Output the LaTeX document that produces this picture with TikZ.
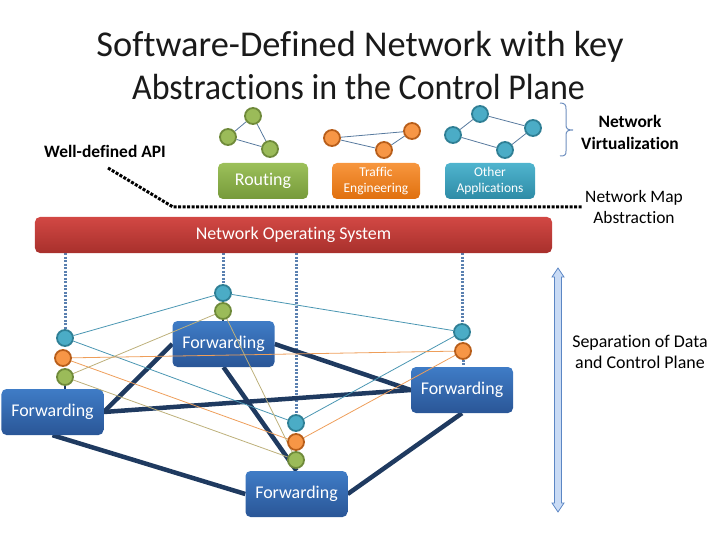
\documentclass[tikz,border=0pt]{standalone}
\usepackage{fontspec}
\setmainfont[Ligatures={NoCommon}]{Carlito}
\definecolor{titlec}{HTML}{1A1A1A}
\definecolor{fwdtop}{HTML}{3F7CC6}
\definecolor{fwdbot}{HTML}{2A5697}
\definecolor{nostop}{HTML}{D24844}
\definecolor{nosbot}{HTML}{A8302C}
\definecolor{rtop}{HTML}{9CC05A}
\definecolor{rbot}{HTML}{769A3A}
\definecolor{ttop}{HTML}{F7963E}
\definecolor{tbot}{HTML}{E0700E}
\definecolor{otop}{HTML}{4FB4CE}
\definecolor{obot}{HTML}{2E8BA6}
\definecolor{blueF}{HTML}{4BACC6}
\definecolor{blueD}{HTML}{2F7F95}
\definecolor{orF}{HTML}{F79646}
\definecolor{orD}{HTML}{B85E1A}
\definecolor{grF}{HTML}{9BBB59}
\definecolor{grD}{HTML}{6F8A3A}
\definecolor{thickc}{HTML}{1F3A60}
\definecolor{dotc}{HTML}{5A80B0}
\definecolor{lnB}{HTML}{4A96B2}
\definecolor{lnO}{HTML}{EE9E5A}
\definecolor{lnG}{HTML}{BDB07A}
\definecolor{clus}{HTML}{587A9E}
\definecolor{bracec}{HTML}{6E8FBF}
\definecolor{arrF}{HTML}{C9DBF5}
\definecolor{arrD}{HTML}{5B86C4}
\pgfdeclarelayer{bg}
\pgfdeclarelayer{boxes}
\pgfdeclarelayer{thin}
\pgfsetlayers{bg,boxes,thin,main}
\begin{document}
\begin{tikzpicture}[x=1bp,y=-1bp,
  box/.style={rounded corners=5bp, text=white, inner sep=0pt, align=center},
  fwd/.style={box, minimum width=102bp, minimum height=46bp, top color=fwdtop, bottom color=fwdbot, font=\fontsize{18}{20}\selectfont},
  app/.style={box, minimum height=36bp},
  nd/.style={circle, line width=1.8bp, minimum size=16bp, inner sep=0pt},
  bn/.style={nd, draw=blueD, fill=blueF},
  on/.style={nd, draw=orD, fill=orF},
  gn/.style={nd, draw=grD, fill=grF},
  clusedge/.style={draw=clus, line width=0.8bp},
  vdot/.style={draw=dotc, line width=3bp, dash pattern=on 2bp off 1.5bp},
  thick link/.style={draw=thickc, line width=4.5bp},
  thinB/.style={draw=lnB, line width=0.8bp},
  thinO/.style={draw=lnO, line width=0.8bp},
  thinG/.style={draw=lnG, line width=0.8bp},
  lbl/.style={align=center, text=black, inner sep=0pt},
]
\useasboundingbox (0,0) rectangle (720,540);

% title
\node[lbl, text=titlec, anchor=base, font=\fontsize{36.5}{43}\selectfont] (title1) at (360,57) {Software-Defined Network with key};
\node[lbl, text=titlec, anchor=base, font=\fontsize{36.5}{43}\selectfont] (title2) at (358.5,100) {\scalebox{0.935}[1]{Abstractions in the Control Plane}};

% labels
\node[lbl, font=\fontsize{17.5}{22}\bfseries] (virt) at (630,132) {Network\\Virtualization};
\node[lbl, font=\fontsize{17.5}{18}\bfseries] (api) at (105,151) {Well-defined API};
\node[lbl, font=\fontsize{17.5}{22}\selectfont] (nma) at (634,207) {Network Map\\Abstraction};
\node[lbl, font=\fontsize{18}{21}\selectfont] (sep) at (640,352) {Separation of Data\\and Control Plane};

% top clusters
\node[gn] (g1) at (253,116) {};
\node[gn] (g2) at (228,137) {};
\node[gn] (g3) at (270,149) {};
\node[on] (o1) at (332,138) {};
\node[on] (o2) at (412,131) {};
\node[on] (o3) at (384,150) {};
\node[bn] (b1) at (480,114) {};
\node[bn] (b2) at (453,135) {};
\node[bn] (b3) at (533,128) {};
\node[bn] (b4) at (505,150) {};
\begin{pgfonlayer}{bg}
\draw[clusedge] (g1) -- (g2) (g1) -- (g3) (g2) -- (g3);
\draw[clusedge] (o1) -- (o2) (o1) -- (o3) (o3) -- (o2);
\draw[clusedge] (b1) -- (b2) (b1) -- (b3) (b2) -- (b4) (b4) -- (b3);
\end{pgfonlayer}

% brace
\draw[bracec, line width=1bp] (560,103) .. controls (565,103) and (566,105) .. (566,109) -- (566,125)
  .. controls (566,129) and (568,130) .. (573,130)
  .. controls (568,130) and (566,131) .. (566,135) -- (566,151)
  .. controls (566,155) and (565,156) .. (560,156);

% application boxes
\begin{pgfonlayer}{boxes}
\node[app, minimum width=90bp, top color=rtop, bottom color=rbot, font=\fontsize{18}{18}\selectfont] (routing) at (263,181) {Routing};
\node[app, minimum width=88bp, top color=ttop, bottom color=tbot, font=\fontsize{13.5}{16}\selectfont] (te) at (376,181) {Traffic\\Engineering};
\node[app, minimum width=90bp, top color=otop, bottom color=obot, font=\fontsize{13.5}{16}\selectfont] (oa) at (490,181) {Other\\Applications};
\node[box, minimum width=517bp, minimum height=36bp, top color=nostop, bottom color=nosbot, font=\fontsize{18}{18}\selectfont] (nos) at (293.5,235) {Network Operating System};
\node[fwd] (f1) at (223.5,344) {Forwarding};
\node[fwd] (f2) at (52.5,412) {Forwarding};
\node[fwd] (f3) at (296.5,494) {Forwarding};
\node[fwd] (f4) at (462,390) {Forwarding};
\end{pgfonlayer}

% API dotted line
\coordinate (api1) at (108,168);
\coordinate (api2) at (173,207);
\coordinate (api3) at (582,207);
\draw[black, line width=3bp, dash pattern=on 3bp off 1.5bp] (api1) -- (api2) -- (api3);

% switch nodes
\node[bn] (a1) at (65,338) {};
\node[on] (a2) at (63,358) {};
\node[gn] (a3) at (65,377) {};
\node[bn] (c1) at (223,293) {};
\node[gn] (c2) at (223,311) {};
\node[bn] (e1) at (462,332) {};
\node[on] (e2) at (463,351) {};
\node[bn] (d1) at (296,423) {};
\node[on] (d2) at (296,442) {};
\node[gn] (d3) at (296,460) {};

\begin{pgfonlayer}{bg}
% control channels
\draw[vdot] (nos.south -| a1) -- (a1);
\draw[vdot] (nos.south -| c1) -- (c1);
\draw[vdot] (nos.south -| d1) -- (d1);
\draw[vdot] (nos.south -| e1) -- (e1);
\draw[vdot] (e2) -- (e2 |- f4.north);
\draw[thickc, line width=2bp] (a3) -- (a3 |- f2.north);
\draw[thickc, line width=2bp] (c2) -- (c2 |- f1.north);
% data links
\draw[thick link] (f2.east) -- (f1.west);
\draw[thick link] (f2.east) -- (f4.west);
\draw[thick link] (f2.south) -- (f3.west);
\draw[thick link] (f1.south) -- (f3.north);
\draw[thick link] (f1.east) -- (f4.west);
\draw[thick link] (f4.south) -- (f3.east);
\end{pgfonlayer}

\begin{pgfonlayer}{thin}
\draw[thinB] (a1) -- (c1) (c1) -- (e1) (a1) -- (d1) (e1) -- (d1);
\draw[thinO] (a2) -- (e2) (a2) -- (d2) (e2) -- (d2);
\draw[thinG] (a3) -- (c2) (a3) -- (d3) (c2) -- (d3);
\end{pgfonlayer}

% separation arrow
\draw[arrD, fill=arrF, line width=0.8bp] (558,268) -- (564,277) -- (561.5,277) -- (561.5,503) -- (564,503) -- (558,512) -- (552,503) -- (554.5,503) -- (554.5,277) -- (552,277) -- cycle;
\end{tikzpicture}
\end{document}
